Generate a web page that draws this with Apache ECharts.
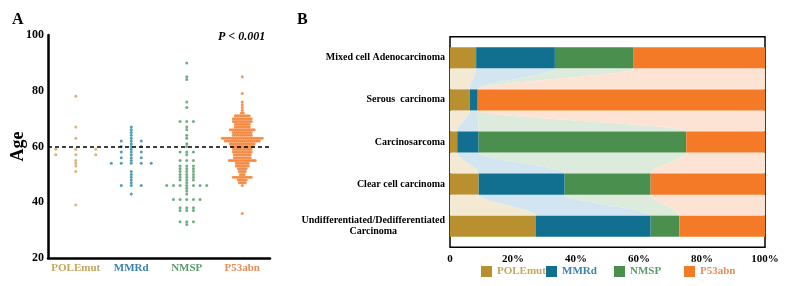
<!DOCTYPE html>
<html>
<head>
<meta charset="utf-8">
<script src="https://cdn.jsdelivr.net/npm/echarts@6/dist/echarts.min.js"></script>
<style>
  html, body { margin: 0; padding: 0; background: #fff; }
  #main { width: 788px; height: 286px; }
</style>
</head>
<body>
<div id="main"></div>
<script>
// ---- panel A: age by molecular group (ages and how many patients share each age)
var groups = ["POLEmut", "MMRd", "NMSP", "P53abn"];

var poleAges = [78, 67, 63, 59, 57, 55, 54, 53, 51, 39];
var poleCounts = [1, 1, 1, 3, 3, 1, 1, 1, 1, 1];

var mmrdAges = [67, 66, 65, 64, 63, 62, 61, 60, 59, 58, 57, 56, 55, 54, 51, 50, 49, 48, 47, 46, 43];
var mmrdCounts = [1, 1, 1, 1, 1, 3, 1, 3, 1, 3, 1, 3, 1, 5, 1, 1, 1, 1, 1, 3, 1];

var nmspAges = [90, 85, 84, 76, 74, 69, 67, 66, 64, 63, 61, 60, 58, 57, 55, 53, 52, 51, 50, 49, 48, 47, 46, 45, 44, 43, 41, 38, 37, 33, 32];
var nmspCounts = [1, 1, 1, 1, 1, 3, 1, 1, 1, 1, 1, 1, 3, 1, 3, 3, 3, 3, 3, 3, 3, 1, 7, 1, 1, 1, 5, 3, 3, 3, 1];

var p53Ages = [85, 79, 76, 75, 74, 73, 72, 71, 70, 69, 68, 67, 66, 65, 64, 63, 62, 61, 60, 59, 58, 57, 56, 55, 54, 53, 52, 51, 50, 49, 48, 47, 46, 36];
var p53Counts = [1, 1, 1, 1, 1, 1, 2, 8, 10, 10, 8, 8, 13, 10, 10, 21, 18, 13, 12, 10, 10, 9, 9, 14, 7, 7, 5, 4, 3, 10, 5, 4, 1, 1];

var ageTicks = { min: 20, max: 100, step: 20 };
var cutoffAge = 60;

// ---- panel B: molecular groups within each histotype (%)
var histotypes = [
  "Mixed cell Adenocarcinoma",
  "Serous  carcinoma",
  "Carcinosarcoma",
  "Clear cell carcinoma",
  "Undifferentiated/Dedifferentiated\nCarcinoma"
];
var polePct = [8.3, 6.3, 2.3, 9.1, 27.3];
var mmrdPct = [25.0, 2.5, 6.8, 27.3, 36.4];
var nmspPct = [25.0, 0, 65.9, 27.3, 9.1];
var p53Pct = [41.7, 91.2, 25.0, 36.3, 27.2];

var barColors = ["#b8902f", "#11708f", "#4b8f4f", "#f47a28"];
var dotColors = ["#c9a85a", "#2a87a0", "#4f9a66", "#f47b2b"];
var labelColors = ["#c6a65a", "#3a82aa", "#5c9c6c", "#e98c55"];
var flowColors = ["#f4ead3", "#d3e5f0", "#dcebdc", "#fce3d3"];
var serif = "Liberation Serif";

var chart = echarts.init(document.getElementById("main"));

// Prism-like dot layout: equal ages side by side, row width limited by the widest row
var swarmSpan = 0.72;
function swarm(gi, ages, counts) {
  var maxN = Math.max.apply(null, counts);
  var step = maxN > 1 ? swarmSpan / (maxN - 1) : 0;
  var pts = [];
  ages.forEach(function (a, i) {
    var n = counts[i];
    for (var k = 0; k < n; k++) {
      pts.push([gi + (k - (n - 1) / 2) * step, a]);
    }
  });
  return pts;
}
var swarmData = [
  swarm(0, poleAges, poleCounts),
  swarm(1, mmrdAges, mmrdCounts),
  swarm(2, nmspAges, nmspCounts),
  swarm(3, p53Ages, p53Counts)
];

// cumulative bounds per histotype, then ribbons between neighbouring bars
var pctSets = [polePct, mmrdPct, nmspPct, p53Pct];
var cum = histotypes.map(function (h, r) {
  var c = [0];
  pctSets.forEach(function (s) { c.push(c[c.length - 1] + s[r]); });
  return c;
});
var flowData = [];
for (var r = 0; r < histotypes.length - 1; r++) {
  for (var c = 0; c < groups.length; c++) {
    flowData.push([r, cum[r][c], cum[r][c + 1], cum[r + 1][c], cum[r + 1][c + 1], c]);
  }
}

function renderFlow(params, api) {
  var r = api.value(0);
  var ts = api.value(1), te = api.value(2), bs = api.value(3), be = api.value(4);
  var h = api.size([0, 1])[1] * 0.5;
  var yT = api.coord([0, r])[1] + h / 2;
  var yB = api.coord([0, r + 1])[1] - h / 2;
  var px = function (v) { return api.coord([v, r])[0]; };
  var N = 30, pts = [], i, t, s;
  for (i = 0; i <= N; i++) {
    t = i / N; s = t * t * (3 - 2 * t);
    pts.push([px(te + (be - te) * s), yT + (yB - yT) * t]);
  }
  for (i = N; i >= 0; i--) {
    t = i / N; s = t * t * (3 - 2 * t);
    pts.push([px(ts + (bs - ts) * s), yT + (yB - yT) * t]);
  }
  return {
    type: "polygon",
    shape: { points: pts },
    style: { fill: flowColors[api.value(5)], stroke: null }
  };
}

var series = [];
groups.forEach(function (g, i) {
  var s = {
    name: "dots-" + g,
    type: "scatter",
    xAxisIndex: 1,
    yAxisIndex: 0,
    symbolSize: 3,
    itemStyle: { color: dotColors[i] },
    data: swarmData[i]
  };
  if (i === 0) {
    s.markLine = {
      silent: true,
      symbol: ["none", "none"],
      label: { show: false },
      lineStyle: { color: "#000", type: [4, 3], width: 1.5 },
      data: [{ yAxis: cutoffAge }]
    };
  }
  series.push(s);
});
series.push({
  type: "custom",
  xAxisIndex: 2,
  yAxisIndex: 1,
  renderItem: renderFlow,
  encode: { x: [1, 2, 3, 4], y: 0 },
  z: 1,
  silent: true,
  data: flowData
});
groups.forEach(function (g, i) {
  series.push({
    name: g,
    type: "bar",
    stack: "total",
    xAxisIndex: 2,
    yAxisIndex: 1,
    barWidth: "50%",
    z: 3,
    itemStyle: { color: barColors[i] },
    data: pctSets[i]
  });
});

var legends = groups.map(function (g, i) {
  return {
    data: [g],
    left: [476, 541, 609, 679][i],
    top: 261,
    icon: "rect",
    itemWidth: 11,
    itemHeight: 11,
    itemGap: 0,
    selectedMode: false,
    textStyle: { fontFamily: serif, fontWeight: "bold", fontSize: 11, color: labelColors[i] }
  };
});

var option = {
  animation: false,
  backgroundColor: "#fff",
  grid: [
    { left: 48, right: 518, top: 35, bottom: 28 },
    { left: 450, right: 23, top: 36.75, bottom: 38.75, show: true, borderColor: "#000", borderWidth: 1.5, backgroundColor: "transparent" }
  ],
  legend: legends,
  graphic: [
    { type: "text", left: 12, top: 12, style: { text: "A", font: "bold 16px " + serif, fill: "#000" } },
    { type: "text", left: 297, top: 12, style: { text: "B", font: "bold 16px " + serif, fill: "#000" } },
    { type: "text", left: 218, top: 31, style: { text: "P < 0.001", font: "italic bold 12px " + serif, fill: "#000" } }
  ],
  xAxis: [
    {
      gridIndex: 0,
      type: "category",
      data: groups,
      axisLine: { onZero: false, lineStyle: { color: "#000", width: 2.5 } },
      axisTick: { show: false },
      axisLabel: {
        interval: 0,
        margin: 5,
        fontFamily: serif,
        fontWeight: "bold",
        fontSize: 11,
        color: function (v) { return labelColors[groups.indexOf(v)]; }
      }
    },
    { gridIndex: 0, type: "value", min: -0.5, max: 3.5, show: false, axisLine: { onZero: false } },
    {
      gridIndex: 1,
      type: "value",
      min: 0,
      max: 100,
      interval: 20,
      axisLine: { show: false },
      axisTick: { show: false },
      splitLine: { show: false },
      axisLabel: {
        margin: 6,
        fontFamily: serif,
        fontWeight: "bold",
        fontSize: 11,
        color: "#000",
        formatter: function (v) { return v === 0 ? "0" : v + "%"; }
      }
    }
  ],
  yAxis: [
    {
      gridIndex: 0,
      type: "value",
      min: ageTicks.min,
      max: ageTicks.max,
      interval: ageTicks.step,
      name: "Age",
      nameLocation: "middle",
      nameGap: 21,
      nameMoveOverlap: false,
      nameTextStyle: { fontFamily: serif, fontWeight: "bold", fontSize: 18, color: "#000" },
      axisLine: { show: true, onZero: false, lineStyle: { color: "#000", width: 2.5 } },
      axisTick: { show: false },
      splitLine: { show: false },
      axisLabel: { margin: 4, fontFamily: serif, fontWeight: "bold", fontSize: 12, color: "#000" }
    },
    {
      gridIndex: 1,
      type: "category",
      inverse: true,
      data: histotypes,
      axisLine: { show: false },
      axisTick: { show: false },
      axisLabel: {
        interval: 0,
        margin: 5,
        formatter: function (v) {
          return v.split("\n").map(function (s) { return "{c|" + s + "}"; }).join("\n");
        },
        rich: {
          c: { align: "center", fontFamily: serif, fontWeight: "bold", fontSize: 10, color: "#000", lineHeight: 11 }
        }
      }
    }
  ],
  series: series
};

chart.setOption(option);
</script>
</body>
</html>
